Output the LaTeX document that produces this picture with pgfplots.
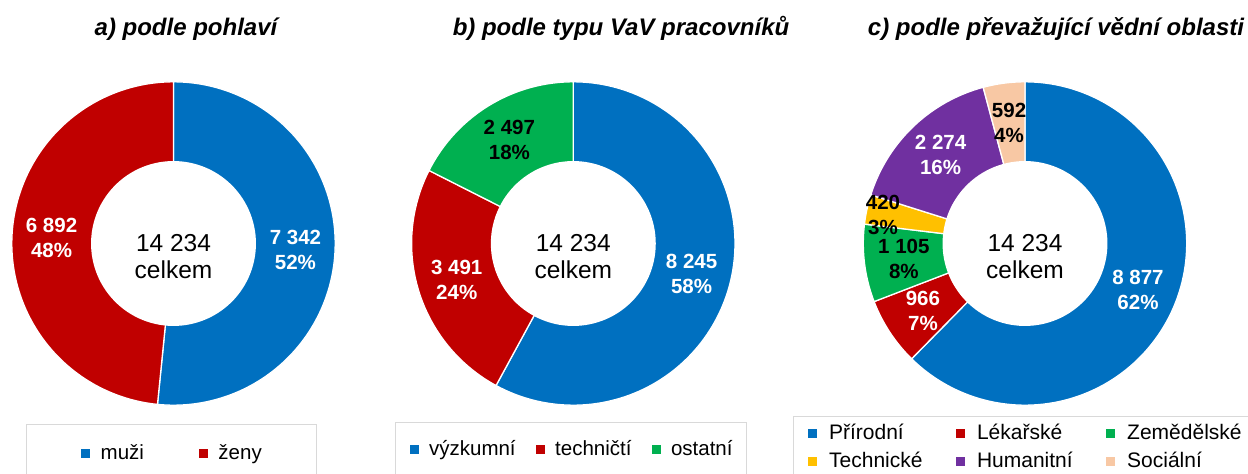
\documentclass[border=0pt]{standalone}
\usepackage{pgfplots}
\pgfplotsset{compat=1.18}
\usepackage{fontspec}
\setmainfont{Liberation Sans}

\definecolor{cblue}{HTML}{0070C0}
\definecolor{cred}{HTML}{C00000}
\definecolor{cgreen}{HTML}{00B050}
\definecolor{cgold}{HTML}{FFC000}
\definecolor{cpurple}{HTML}{7030A0}
\definecolor{cpeach}{HTML}{F8C8A4}
\definecolor{legbox}{HTML}{D9D9D9}

% name, start angle, value, total -> \<name>s, \<name>e (end), \<name>m (middle)
\newcommand{\mkslice}[4]{%
  \expandafter\pgfmathsetmacro\csname #1s\endcsname{#2}%
  \expandafter\pgfmathsetmacro\csname #1e\endcsname{#2-360*(#3/#4)}%
  \expandafter\pgfmathsetmacro\csname #1m\endcsname{#2-180*(#3/#4)}%
}

% a) podle pohlavi
\mkslice{muzi}{90}{7342}{14234}
\mkslice{zeny}{\muzie}{6892}{14234}
% b) podle typu
\mkslice{vyzk}{90}{8245}{14233}
\mkslice{tech}{\vyzke}{3491}{14233}
\mkslice{ost}{\teche}{2497}{14233}
% c) podle oblasti
\mkslice{prir}{90}{8877}{14234}
\mkslice{lek}{\prire}{966}{14234}
\mkslice{zem}{\leke}{1105}{14234}
\mkslice{techn}{\zeme}{420}{14234}
\mkslice{hum}{\techne}{2274}{14234}
\mkslice{soc}{\hume}{592}{14234}

\pgfplotsset{
  donut/.style={width=323.4pt, height=323.4pt, scale only axis,
    xmin=-1, xmax=1, ymin=-1, ymax=1, hide axis, clip=false, anchor=center,
    legend cell align=left,
    legend image code/.code={\fill[##1,draw=none] (0pt,-4pt) rectangle (9pt,5pt);},
    legend style={draw=legbox, line width=1pt, fill=white, anchor=north west,
      font=\fontsize{20.5}{24}\selectfont,
      nodes={inner sep=0pt, text height=15pt, text depth=4.5pt},
      /tikz/every odd column/.style={column sep=10.5pt}}},
  slice/.style={draw=white, line width=1.3pt, samples=120},
  hole/.style={fill=white, draw=none, samples=120, forget plot, domain=0:360},
}
\tikzset{
  lbl/.style={font=\bfseries\fontsize{20.5}{25}\selectfont, align=center, inner sep=0pt},
  ctr/.style={font=\fontsize{24.5}{29}\selectfont, anchor=base, inner sep=0pt},
  ttl/.style={font=\bfseries\itshape\fontsize{24}{28}\selectfont, anchor=base, inner sep=0pt},
}

\begin{document}
\begin{tikzpicture}
\useasboundingbox (0,0) rectangle (1248pt,474pt);

\node[ttl] at (186pt,438pt) {a) podle pohlaví};
\node[ttl] at (621pt,438pt) {b) podle typu VaV pracovníků};
\node[ttl] at (1056pt,438pt) {c) podle převažující vědní oblasti};

% ---------- a)
\begin{axis}[donut, at={(173.5pt,230.5pt)}, legend columns=2,
  legend style={at={(0.043,-0.058)}, inner xsep=55pt, inner ysep=20pt,
    /tikz/every even column/.style={column sep=55pt}}]
\addplot[slice, fill=cblue, domain=\muzie:\muzis] ({cos(x)},{sin(x)}) -- (axis cs:0,0) -- cycle;
\addlegendentry{muži}
\addplot[slice, fill=cred, domain=\zenye:\zenys] ({cos(x)},{sin(x)}) -- (axis cs:0,0) -- cycle;
\addlegendentry{ženy}
\addplot[hole] ({0.51*cos(x)},{0.51*sin(x)}) -- cycle;
\node[lbl, text=white] at (axis cs:{0.755*cos(\muzim)},{0.755*sin(\muzim)}) {7 342\\52\%};
\node[lbl, text=white] at (axis cs:{0.755*cos(\zenym)},{0.755*sin(\zenym)}) {6 892\\48\%};
\node[ctr] at (axis cs:0,-0.051) {14 234};
\node[ctr] at (axis cs:0,-0.215) {celkem};
\end{axis}

% ---------- b)
\begin{axis}[donut, at={(573.3pt,230.5pt)}, legend columns=3,
  legend style={at={(-0.051,-0.052)}, inner xsep=14pt, inner ysep=18pt,
    /tikz/every even column/.style={column sep=20pt}}]
\addplot[slice, fill=cblue, domain=\vyzke:\vyzks] ({cos(x)},{sin(x)}) -- (axis cs:0,0) -- cycle;
\addlegendentry{výzkumní}
\addplot[slice, fill=cred, domain=\teche:\techs] ({cos(x)},{sin(x)}) -- (axis cs:0,0) -- cycle;
\addlegendentry{techničtí}
\addplot[slice, fill=cgreen, domain=\oste:\osts] ({cos(x)},{sin(x)}) -- (axis cs:0,0) -- cycle;
\addlegendentry{ostatní}
\addplot[hole] ({0.51*cos(x)},{0.51*sin(x)}) -- cycle;
\node[lbl, text=white] at (axis cs:{0.755*cos(\vyzkm)},{0.755*sin(\vyzkm)}) {8 245\\58\%};
\node[lbl, text=white] at (axis cs:{0.755*cos(\techm)},{0.755*sin(\techm)}) {3 491\\24\%};
\node[lbl, text=black] at (axis cs:{0.755*cos(\ostm)},{0.755*sin(\ostm)}) {2 497\\18\%};
\node[ctr] at (axis cs:0,-0.051) {14 234};
\node[ctr] at (axis cs:0,-0.215) {celkem};
\end{axis}

% ---------- c)
\begin{axis}[donut, at={(1025pt,230.5pt)}, legend columns=3,
  legend style={at={(-0.217,-0.033)}, inner xsep=14pt, inner ysep=8pt, row sep=8.2pt,
    font=\fontsize{21}{24}\selectfont,
    /tikz/every odd column/.style={column sep=12.5pt},
    /tikz/every even column/.style={column sep=33pt}}]
\addplot[slice, fill=cblue, domain=\prire:\prirs] ({cos(x)},{sin(x)}) -- (axis cs:0,0) -- cycle;
\addlegendentry{Přírodní}
\addplot[slice, fill=cred, domain=\leke:\leks] ({cos(x)},{sin(x)}) -- (axis cs:0,0) -- cycle;
\addlegendentry{Lékařské}
\addplot[slice, fill=cgreen, domain=\zeme:\zems] ({cos(x)},{sin(x)}) -- (axis cs:0,0) -- cycle;
\addlegendentry{Zemědělské}
\addplot[slice, fill=cgold, domain=\techne:\techns] ({cos(x)},{sin(x)}) -- (axis cs:0,0) -- cycle;
\addlegendentry{Technické}
\addplot[slice, fill=cpurple, domain=\hume:\hums] ({cos(x)},{sin(x)}) -- (axis cs:0,0) -- cycle;
\addlegendentry{Humanitní}
\addplot[slice, fill=cpeach, domain=\soce:\socs] ({cos(x)},{sin(x)}) -- (axis cs:0,0) -- cycle;
\addlegendentry{Sociální}
\addplot[hole] ({0.51*cos(x)},{0.51*sin(x)}) -- cycle;
\node[lbl, text=white] at (axis cs:{0.755*cos(\prirm)},{0.755*sin(\prirm)}) {8 877\\62\%};
\node[lbl, text=white] at (axis cs:{0.755*cos(\lekm)},{0.755*sin(\lekm)}) {966\\7\%};
\node[lbl, text=black] at (axis cs:{0.755*cos(\zemm)},{0.755*sin(\zemm)}) {1 105\\8\%};
\node[lbl, text=black] at (axis cs:-0.878,0.176) {420\\3\%};
\node[lbl, text=white] at (axis cs:{0.755*cos(\humm)},{0.755*sin(\humm)}) {2 274\\16\%};
\node[lbl, text=black] at (axis cs:{0.755*cos(\socm)},{0.755*sin(\socm)}) {592\\4\%};
\node[ctr] at (axis cs:0,-0.051) {14 234};
\node[ctr] at (axis cs:0,-0.215) {celkem};
\end{axis}
\end{tikzpicture}
\end{document}
